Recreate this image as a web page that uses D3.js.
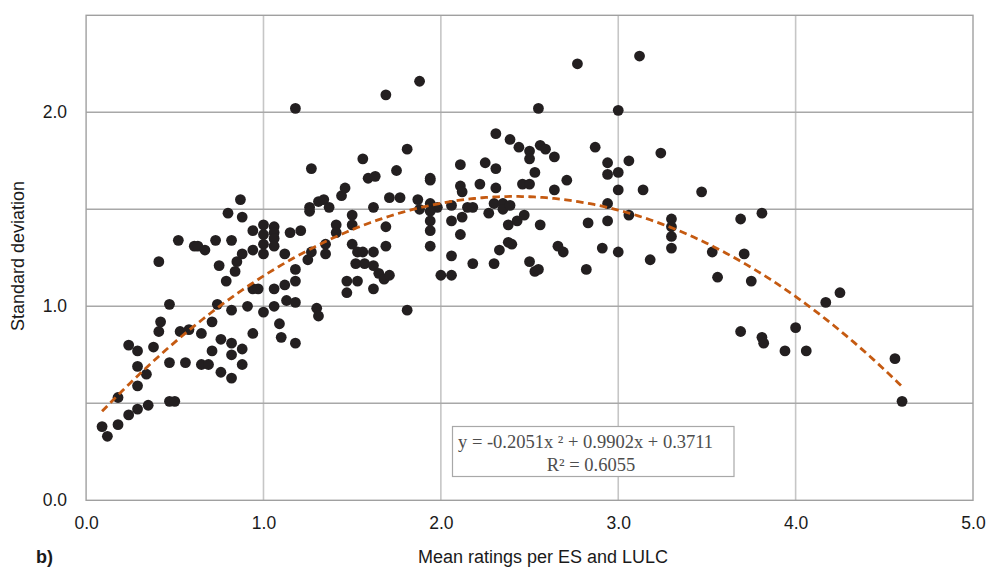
<!DOCTYPE html>
<html>
<head>
<meta charset="utf-8">
<script src="https://cdn.jsdelivr.net/npm/d3@7"></script>
<style>
  html, body { margin: 0; padding: 0; background: #ffffff; }
  svg { display: block; }
</style>
</head>
<body>
<svg id="chart" width="988" height="570"></svg>
<script>
// ---------- DATA ----------
const meanRatings = [
  0.09,0.12,0.18,0.18,0.24,0.29,0.35,0.47,0.50,0.29,0.29,0.34,0.24,0.29,0.38,0.47,0.56,0.65,0.69,0.71,
  0.76,0.82,0.82,0.88,0.88,0.76,0.82,0.94,0.41,0.53,0.58,0.65,0.87,0.80,0.88,0.52,0.61,0.63,0.67,0.73,
  0.82,0.94,0.88,0.94,0.85,0.75,0.84,0.79,0.41,0.94,0.97,0.47,0.74,0.82,0.91,0.42,0.71,
  1.00,1.00,1.00,1.00,1.06,1.06,1.06,1.06,1.06,1.00,1.06,1.09,1.10,1.12,1.15,1.21,1.18,1.18,1.12,1.25,
  1.27,1.35,1.35,1.13,1.18,1.18,1.30,1.31,1.18,1.27,1.26,1.26,1.31,1.34,1.37,1.41,1.41,1.44,1.46,1.50,
  1.50,1.50,1.53,1.56,1.62,1.69,1.69,1.62,1.56,1.59,1.63,1.69,1.71,1.75,1.77,1.81,1.88,1.52,1.57,1.62,
  1.65,1.68,1.71,1.47,1.53,1.47,1.62,1.81,1.87,1.88,1.94,1.94,1.94,1.98,1.94,1.94,1.94,1.94,2.00,2.06,
  2.06,2.06,2.06,2.11,2.11,2.12,2.12,2.11,2.15,2.18,2.18,2.22,2.25,2.27,2.30,2.30,2.31,2.31,2.31,2.33,
  2.35,2.35,2.39,2.38,2.40,2.38,2.39,2.43,2.44,2.46,2.50,2.47,2.50,2.50,2.50,2.53,2.55,2.53,2.55,2.56,
  2.59,2.56,2.64,2.64,2.66,2.69,2.71,2.77,2.82,2.83,2.87,2.91,2.94,2.94,2.94,2.94,3.00,3.00,3.00,3.00,
  3.06,3.06,3.12,3.14,3.18,3.24,3.30,3.30,3.30,3.30,3.47,3.53,3.56,3.69,3.71,3.75,3.81,3.69,3.81,3.82,
  3.94,4.00,4.06,4.17,4.25,4.56,4.60
];
const stdDevs = [
  0.38,0.33,0.39,0.53,0.44,0.47,0.49,0.51,0.51,0.59,0.69,0.65,0.80,0.77,0.79,0.71,0.71,0.70,0.70,0.77,
  0.83,0.81,0.75,0.78,0.70,0.66,0.63,0.86,0.87,0.87,0.88,0.86,1.55,1.48,1.46,1.34,1.31,1.31,1.29,1.34,
  1.34,1.39,1.27,1.29,1.23,1.21,1.18,1.13,1.23,1.09,1.09,1.01,1.01,0.98,1.00,0.92,0.92,
  1.42,1.37,1.32,1.27,1.41,1.38,1.35,1.31,1.09,0.97,1.00,0.91,0.84,1.27,1.38,1.39,1.19,1.13,1.11,1.24,
  1.28,1.32,1.27,1.03,1.02,0.81,0.99,0.95,2.02,1.71,1.51,1.49,1.54,1.55,1.51,1.42,1.38,1.57,1.61,1.47,
  1.42,1.32,1.28,1.28,1.28,1.31,1.41,1.51,1.76,1.66,1.67,2.09,1.56,1.70,1.56,1.81,2.16,1.22,1.22,1.21,
  1.17,1.14,1.16,1.13,1.13,1.07,1.09,0.98,1.55,1.50,1.66,1.65,1.53,1.51,1.49,1.44,1.39,1.31,1.16,1.16,
  1.26,1.52,1.44,1.73,1.62,1.59,1.46,1.37,1.51,1.51,1.22,1.63,1.74,1.48,1.53,1.22,1.71,1.89,1.61,1.29,
  1.53,1.50,1.52,1.33,1.32,1.42,1.86,1.44,1.82,1.63,1.63,1.47,1.80,1.76,1.23,1.18,1.19,1.69,2.02,1.83,
  1.81,1.42,1.77,1.60,1.31,1.28,1.65,2.25,1.19,1.43,1.82,1.30,1.74,1.68,1.53,1.44,2.01,1.69,1.60,1.28,
  1.75,1.47,2.29,1.60,1.24,1.79,1.45,1.41,1.36,1.30,1.59,1.28,1.15,1.45,1.27,1.13,1.48,0.87,0.84,0.81,
  0.77,0.89,0.77,1.02,1.07,0.73,0.51
];
// polynomial trendline y = a x^2 + b x + c, as printed on the chart
const trendCoefs = [-0.2051, 0.9902, 0.3711];
const trendRange = [0.09, 4.60];
const xTicks = [0, 1, 2, 3, 4, 5];
const yTicks = [0, 1, 2];
const yGrid = [0.5, 1.0, 1.5, 2.0];
const xGrid = [1, 2, 3, 4];
const eqLine1 = "y = -0.2051x \u00B2 + 0.9902x + 0.3711";
const eqLine2 = "R\u00B2 = 0.6055";

// ---------- CHART ----------
const svg = d3.select("#chart");
const L = 86.1, R = 973, T = 15.3, B = 500.3;
const x = d3.scaleLinear().domain([0, 5]).range([L, R]);
const y = d3.scaleLinear().domain([0, 2.5]).range([B, T]);

// vertical grid
svg.append("g").selectAll("line").data(xGrid).join("line")
  .attr("x1", d => x(d)).attr("x2", d => x(d))
  .attr("y1", T).attr("y2", B)
  .attr("stroke", "#c6c6c6").attr("stroke-width", 1.6);

// horizontal grid
svg.append("g").selectAll("line").data(yGrid).join("line")
  .attr("x1", L).attr("x2", R)
  .attr("y1", d => y(d)).attr("y2", d => y(d))
  .attr("stroke", "#a8a8a8").attr("stroke-width", 1.4);

// frame
svg.append("rect")
  .attr("x", L).attr("y", T).attr("width", R - L).attr("height", B - T)
  .attr("fill", "none").attr("stroke", "#a0a0a0").attr("stroke-width", 1.4);

// axes tick labels via d3 axes (no lines)
const xAxis = svg.append("g").attr("transform", `translate(0,${B})`)
  .call(d3.axisBottom(x).tickValues(xTicks).tickFormat(d3.format(".1f")).tickSize(0).tickPadding(16));
const yAxis = svg.append("g").attr("transform", `translate(${L},0)`)
  .call(d3.axisLeft(y).tickValues(yTicks).tickFormat(d3.format(".1f")).tickSize(0).tickPadding(19));
[xAxis, yAxis].forEach(g => {
  g.select(".domain").remove();
  g.selectAll("text")
    .attr("font-family", "'Liberation Sans', Arial, sans-serif")
    .attr("font-size", 17.5).attr("fill", "#1a1a1a");
});

// points
svg.append("g").selectAll("circle").data(meanRatings.map((m, i) => [m, stdDevs[i]])).join("circle")
  .attr("cx", d => x(d[0])).attr("cy", d => y(d[1]))
  .attr("r", 5.4).attr("fill", "#231f20");

// trendline
const trendPts = d3.range(0, 201).map(i => {
  const xv = trendRange[0] + (trendRange[1] - trendRange[0]) * i / 200;
  return [xv, trendCoefs[0] * xv * xv + trendCoefs[1] * xv + trendCoefs[2]];
});
svg.append("path").datum(trendPts)
  .attr("d", d3.line().x(d => x(d[0])).y(d => y(d[1])))
  .attr("fill", "none").attr("stroke", "#c55a11").attr("stroke-width", 2.8)
  .attr("stroke-dasharray", "7.5,4.5");

// equation box
svg.append("rect")
  .attr("x", 452.5).attr("y", 426.5).attr("width", 281.5).attr("height", 50)
  .attr("fill", "#ffffff").attr("stroke", "#a8a8a8").attr("stroke-width", 1.2);
svg.append("text").attr("x", 458).attr("y", 448).attr("text-anchor", "start")
  .attr("font-family", "'Liberation Serif', 'Times New Roman', serif").attr("font-size", 18.5)
  .attr("fill", "#4d4d4d").text(eqLine1);
svg.append("text").attr("x", 591).attr("y", 471).attr("text-anchor", "middle")
  .attr("font-family", "'Liberation Serif', 'Times New Roman', serif").attr("font-size", 18.5)
  .attr("fill", "#4d4d4d").text(eqLine2);

// axis titles
svg.append("text").attr("x", 543).attr("y", 563).attr("text-anchor", "middle")
  .attr("font-family", "'Liberation Sans', Arial, sans-serif").attr("font-size", 18)
  .attr("fill", "#1a1a1a").text("Mean ratings per ES and LULC");
svg.append("text").attr("transform", "translate(24,256) rotate(-90)").attr("text-anchor", "middle")
  .attr("font-family", "'Liberation Sans', Arial, sans-serif").attr("font-size", 18)
  .attr("fill", "#1a1a1a").text("Standard deviation");
svg.append("text").attr("x", 36).attr("y", 563)
  .attr("font-family", "'Liberation Sans', Arial, sans-serif").attr("font-size", 18).attr("font-weight", "bold")
  .attr("fill", "#1a1a1a").text("b)");
</script>
</body>
</html>
